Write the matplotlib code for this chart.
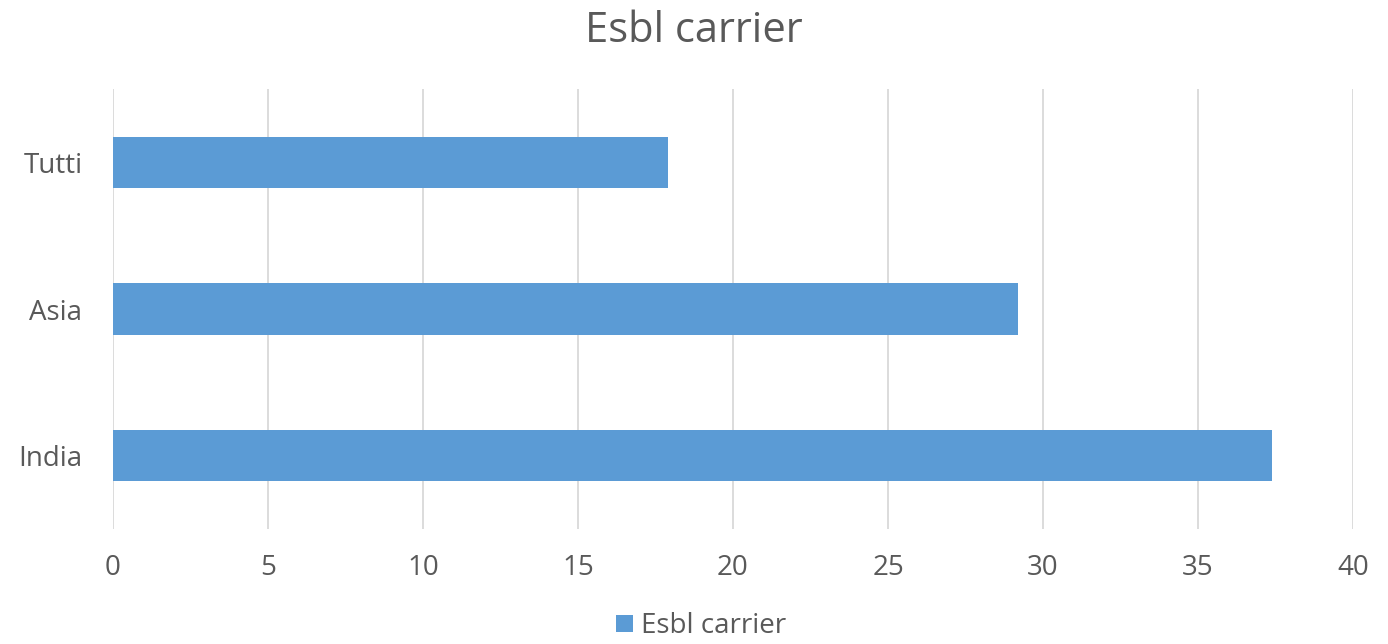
import numpy as np
import matplotlib.pyplot as plt

categories = ['India', 'Asia', 'Tutti']
values = [37.4, 29.2, 17.9]
series_name = 'Esbl carrier'
xticks = [0, 5, 10, 15, 20, 25, 30, 35, 40]

plt.rcParams['font.family'] = ['Open Sans', 'DejaVu Sans']
txt = '#595959'

fig = plt.figure(figsize=(13.88, 6.44), dpi=100)
ax = fig.add_axes([113/1388, 115/644, 1240/1388, 440/644])

y = np.arange(len(categories))
ax.barh(y, values, height=0.35, color='#5b9bd5', label=series_name, zorder=3)

ax.set_xlim(0, 40)
ax.set_ylim(-0.5, 2.5)
ax.set_xticks(xticks)
ax.set_yticks(y)
ax.set_yticklabels(categories)
ax.grid(axis='x', color='#d9d9d9', linewidth=1.3, zorder=0)
for s in ax.spines.values():
    s.set_visible(False)
ax.tick_params(length=0, labelsize=20, labelcolor=txt)
ax.tick_params(axis='x', pad=18)
ax.tick_params(axis='y', pad=22)

fig.suptitle('Esbl carrier', y=0.985, fontsize=30, color=txt)
fig.legend(loc='lower center', bbox_to_anchor=(0.505, -0.033), frameon=False,
           fontsize=20, labelcolor=txt, handlelength=0.6, handleheight=0.6,
           handletextpad=0.3)

plt.savefig('out.png', dpi=100)
